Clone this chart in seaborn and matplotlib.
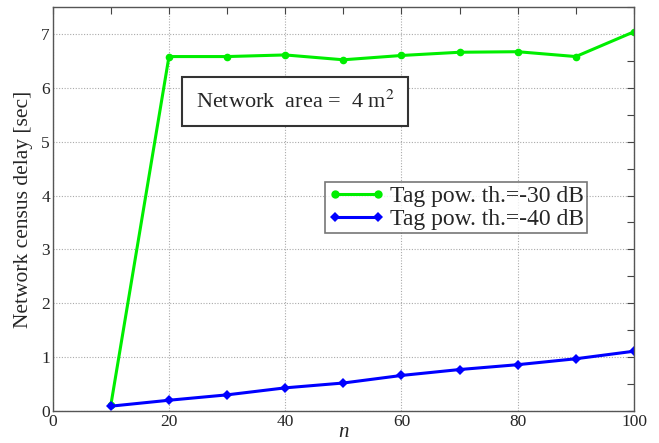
import numpy as np
import pandas as pd
import matplotlib
matplotlib.use("Agg")
import matplotlib.pyplot as plt
from matplotlib.ticker import MultipleLocator
from matplotlib.lines import Line2D
import seaborn as sns

n_values = [10, 20, 30, 40, 50, 60, 70, 80, 90, 100]
delay_30dB = [0.11, 6.58, 6.58, 6.61, 6.52, 6.60, 6.66, 6.67, 6.58, 7.04]
delay_40dB = [0.09, 0.20, 0.30, 0.43, 0.52, 0.66, 0.77, 0.86, 0.97, 1.11]
series_labels = ["Tag pow. th.=-30 dB", "Tag pow. th.=-40 dB"]
x_label = "n"
y_label = "Network census delay [sec]"
box_text = "Network  area =  4 m$^2$"

sns.set_style("white")
plt.rcParams["font.family"] = ["Liberation Serif", "DejaVu Serif"]
plt.rcParams["mathtext.fontset"] = "stix"

df = pd.DataFrame({
    "n": n_values * 2,
    "delay": delay_30dB + delay_40dB,
    "series": [series_labels[0]] * len(n_values) + [series_labels[1]] * len(n_values),
})

fig = plt.figure(figsize=(6.59, 4.43), dpi=100)
ax = fig.add_axes([0.080, 0.0722, 0.882, 0.912])

palette = {series_labels[0]: "#00ee00", series_labels[1]: "#0000ff"}
markers = {series_labels[0]: "o", series_labels[1]: "D"}
sns.lineplot(data=df, x="n", y="delay", hue="series", style="series",
             palette=palette, markers=markers, dashes=False, ax=ax,
             linewidth=2.2, markersize=5.5, markeredgewidth=0, legend=False)

ax.set_xlim(0, 100)
ax.set_ylim(0, 7.5)
ax.xaxis.set_major_locator(MultipleLocator(20))
ax.xaxis.set_minor_locator(MultipleLocator(10))
ax.yaxis.set_major_locator(MultipleLocator(1))
ax.yaxis.set_minor_locator(MultipleLocator(0.5))
ax.grid(True, which="major", linestyle=(0, (1, 1.5)), color="#aaaaaa", linewidth=0.8)
ax.tick_params(which="both", direction="in", top=True, right=True,
               color="#444444", width=0.8)
ax.tick_params(which="major", length=5, labelsize=12.5, pad=2)
ax.tick_params(which="minor", length=5)
for s in ax.spines.values():
    s.set_color("#555555")
    s.set_linewidth(1.0)

ax.set_xlabel(x_label, fontsize=15, style="italic", labelpad=-5)
ax.set_ylabel(y_label, fontsize=15.5, labelpad=6)

handles = [
    Line2D([0], [0], color="#00ee00", lw=2.2, marker="o", markersize=6, markeredgewidth=0),
    Line2D([0], [0], color="#0000ff", lw=2.2, marker="D", markersize=5, markeredgewidth=0),
]
leg = ax.legend(handles, series_labels, loc="upper right",
                bbox_to_anchor=(0.891, 0.589), bbox_transform=fig.transFigure,
                fontsize=17, frameon=True, fancybox=False, numpoints=2,
                handlelength=2.4, handletextpad=0.2, borderpad=0.15,
                labelspacing=0.05, borderaxespad=0)
leg.get_frame().set_edgecolor("#555555")
leg.get_frame().set_linewidth(1.2)

fig.text(0.448, 0.770, box_text, fontsize=16, ha="center", va="center",
         bbox=dict(boxstyle="square,pad=0.6", facecolor="white",
                   edgecolor="#333333", linewidth=1.5))

fig.savefig("out.png", dpi=100)
